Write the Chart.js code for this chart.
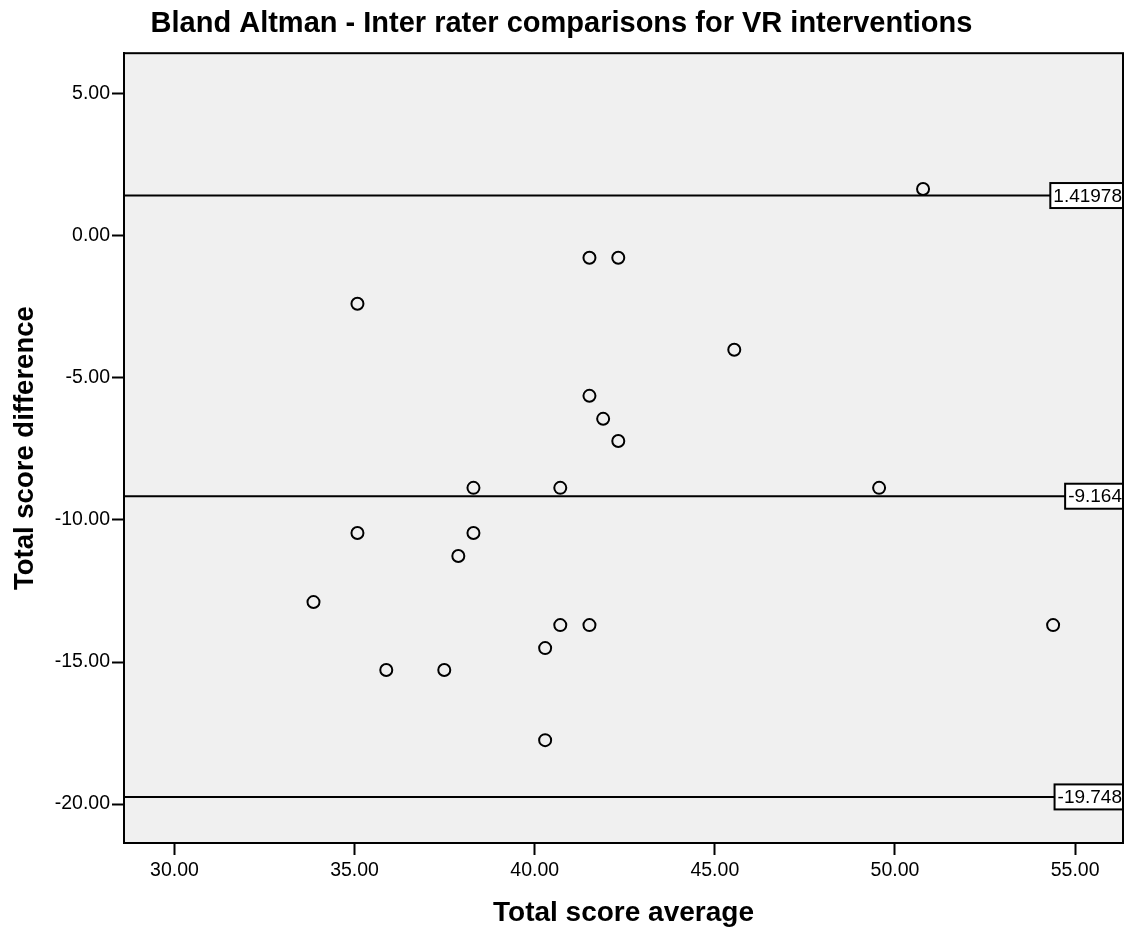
<!DOCTYPE html>
<html>
<head>
<meta charset="utf-8">
<script src="https://cdn.jsdelivr.net/npm/chart.js@4.4.1/dist/chart.umd.min.js"></script>
<style>
  body { margin: 0; background: #fff; }
  #wrap { width: 1132px; height: 931px; }
</style>
</head>
<body>
<div id="wrap"><canvas id="chart_bland_altman"></canvas></div>
<script>
// averages and differences
const avgScores  = [33.86, 35.08, 35.08, 35.88, 37.49, 37.88, 38.30, 38.30, 40.29, 40.29, 40.71,
                    40.71, 41.52, 41.52, 41.52, 41.90, 42.32, 42.32, 45.54, 49.56, 50.78, 54.39];
const diffScores = [-12.89, -2.39, -10.46, -15.28, -15.28, -11.27, -8.87, -10.46, -14.51, -17.75, -8.87,
                    -13.70, -0.77, -5.63, -13.70, -6.44, -0.77, -7.22, -4.01, -8.87, 1.65, -13.70];

// mean difference and limits of agreement
const limitValues = [1.41978, -9.164, -19.748];
const limitLabels = ['1.41978', '-9.164', '-19.748'];

const xTicks = [30, 35, 40, 45, 50, 55];
const yTicks = [5, 0, -5, -10, -15, -20];

const axisFont = "Arial, 'Liberation Sans', sans-serif";

let points = avgScores.map((x, i) => ({ x: x, y: diffScores[i] }));

const plotFrame = {
  id: 'plotFrame',
  beforeDraw(chart) {
    let { ctx, chartArea: a } = chart;
    ctx.save();
    ctx.fillStyle = '#f0f0f0';
    ctx.fillRect(a.left, a.top, a.right - a.left, a.bottom - a.top);
    ctx.restore();
  },
  beforeDatasetsDraw(chart) {
    let { ctx, chartArea: a, scales: { y } } = chart;
    ctx.save();
    ctx.strokeStyle = '#000';
    ctx.lineWidth = 2;
    limitValues.forEach(v => {
      let py = y.getPixelForValue(v);
      ctx.beginPath();
      ctx.moveTo(a.left, py);
      ctx.lineTo(a.right, py);
      ctx.stroke();
    });
    ctx.restore();
  },
  afterDatasetsDraw(chart) {
    let { ctx, chartArea: a, scales: { y } } = chart;
    ctx.save();
    ctx.font = '19px ' + axisFont;
    ctx.textAlign = 'right';
    ctx.textBaseline = 'middle';
    limitValues.forEach((v, i) => {
      let py = y.getPixelForValue(v);
      let w = ctx.measureText(limitLabels[i]).width + 4;
      let h = 25;
      ctx.fillStyle = '#fff';
      ctx.fillRect(a.right - w, py - h / 2, w, h);
      ctx.strokeStyle = '#000';
      ctx.lineWidth = 2;
      ctx.strokeRect(a.right - w, py - h / 2, w, h);
      ctx.fillStyle = '#000';
      ctx.fillText(limitLabels[i], a.right - 1, py + 1);
    });
    // frame round the plot
    ctx.lineWidth = 2;
    ctx.strokeRect(a.left, a.top, a.right - a.left, a.bottom - a.top);
    ctx.restore();
  }
};

let data = {
  datasets: [
    {
      data: points,
      pointStyle: 'circle',
      pointRadius: 6,
      pointHoverRadius: 6,
      borderWidth: 2,
      borderColor: '#000',
      backgroundColor: 'rgba(0,0,0,0)'
    }
  ]
};

let options = {
  responsive: true,
  maintainAspectRatio: false,
  animation: false,
  events: [],
  layout: { padding: { left: 0, right: 9, top: 0, bottom: 0 } },
  plugins: {
    legend: { display: false },
    tooltip: { enabled: false },
    title: {
      display: true,
      text: 'Bland Altman - Inter rater comparisons for VR interventions',
      color: '#000',
      font: { family: axisFont, size: 29, weight: 'bold' },
      padding: { top: 7, bottom: 11.4 }
    }
  },
  scales: {
    x: {
      type: 'linear',
      min: 28.6,
      max: 56.33,
      afterBuildTicks: scale => { scale.ticks = xTicks.map(v => ({ value: v })); },
      afterFit: scale => { scale.height = 88; },
      ticks: {
        color: '#000',
        padding: 4,
        maxRotation: 0,
        font: { family: axisFont, size: 19.5 },
        callback: v => v.toFixed(2)
      },
      grid: { drawOnChartArea: false, drawTicks: true, tickLength: 12, tickWidth: 2, tickColor: '#000' },
      border: { display: true, color: '#000', width: 2 },
      title: {
        display: true,
        text: 'Total score average',
        color: '#000',
        font: { family: axisFont, size: 28, weight: 'bold' },
        padding: { top: 0, bottom: 1 }
      }
    },
    y: {
      type: 'linear',
      min: -21.37,
      max: 6.43,
      afterBuildTicks: scale => { scale.ticks = yTicks.map(v => ({ value: v })); },
      afterFit: scale => { scale.width = 124; },
      ticks: {
        color: '#000',
        padding: 2,
        font: { family: axisFont, size: 19.5 },
        callback: v => v.toFixed(2)
      },
      grid: { drawOnChartArea: false, drawTicks: true, tickLength: 12, tickWidth: 2, tickColor: '#000' },
      border: { display: true, color: '#000', width: 2 },
      title: {
        display: true,
        text: 'Total score difference',
        color: '#000',
        font: { family: axisFont, size: 27.5, weight: 'bold' },
        padding: { top: 8.5, bottom: 0 }
      }
    }
  }
};

new Chart('chart_bland_altman', { type: 'scatter', data, options, plugins: [plotFrame] });
</script>
</body>
</html>
